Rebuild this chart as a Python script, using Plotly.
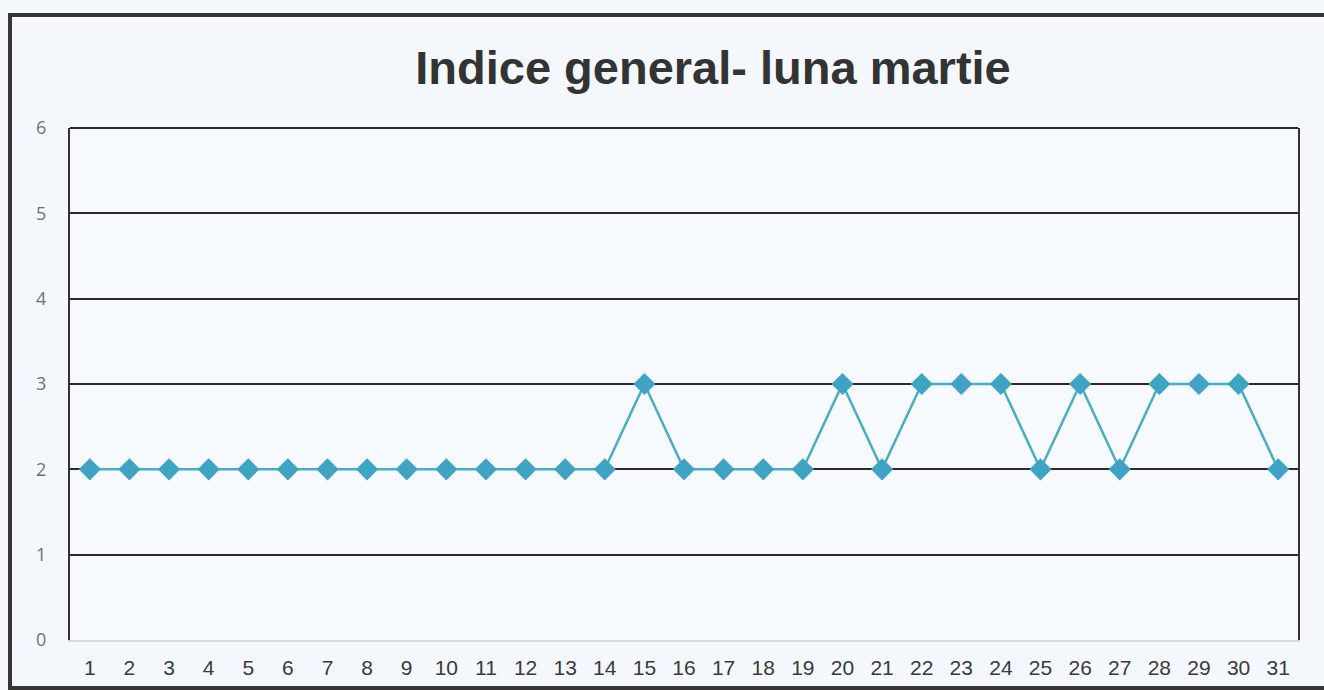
import plotly.graph_objects as go

days = [str(d) for d in range(1, 32)]
values = [2, 2, 2, 2, 2, 2, 2, 2, 2, 2, 2, 2, 2, 2, 3, 2, 2, 2, 2, 3, 2, 3, 3, 3, 2, 3, 2, 3, 3, 3, 2]
title = "Indice general- luna martie"

W, H = 1324, 690
L, R, T, B = 70, 26, 128, 50
pw, ph = W - L - R, H - T - B

def px(x):
    return (x - L) / pw

def py(y):
    return (H - B - y) / ph

fig = go.Figure()
fig.add_trace(go.Scatter(
    x=days, y=values, mode="lines+markers",
    line=dict(color="#4BACC6", width=2.5),
    marker=dict(symbol="diamond", size=17, color="#3FA3C4"),
    showlegend=False,
))

fig.update_layout(
    width=W, height=H,
    margin=dict(l=L, r=R, t=T, b=B),
    paper_bgcolor="#F4F8FC",
    plot_bgcolor="#F6F9FD",
    title=dict(text="<b>" + title + "</b>", x=713 / W, xanchor="center",
               y=1 - 68 / H, yanchor="middle",
               font=dict(family="Liberation Sans, Arial", size=47, color="#333333")),
    xaxis=dict(type="category", range=[-0.5, 30.5], showgrid=False, showline=True,
               linecolor="#D5DAE0", linewidth=1.5, ticks="",
               tickfont=dict(family="Liberation Sans, Arial", size=21, color="#3A3A3A"),
               ticklabelstandoff=8),
    yaxis=dict(range=[0, 6], dtick=1, showgrid=True, gridcolor="#2B2B2B", gridwidth=2,
               zeroline=False, showline=True, mirror=True, linecolor="#333333", linewidth=2,
               ticks="", tickfont=dict(family="Open Sans, Liberation Sans", size=18, color="#707070"),
               ticklabelstandoff=18),
    shapes=[
        dict(type="line", xref="paper", yref="paper", x0=0, x1=1, y0=1, y1=1,
             line=dict(color="#2B2B2B", width=2)),
        dict(type="rect", xref="paper", yref="paper",
             x0=px(10), x1=px(1340), y0=py(15), y1=py(688),
             line=dict(color="#3A3535", width=4), layer="above"),
    ],
)

fig.write_html("out.html", config={"displayModeBar": False},
               post_script="document.body.style.margin='0';document.body.style.overflow='hidden';")
